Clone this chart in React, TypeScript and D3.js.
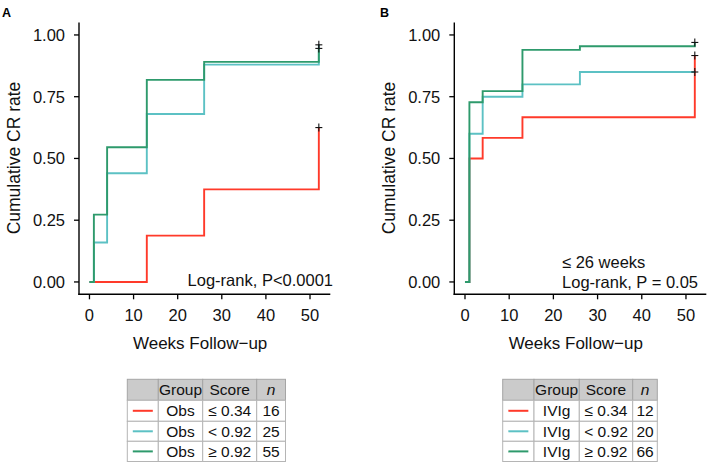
import React from 'react';
import * as d3 from 'd3';

const weeks = [0, 1, 4, 13, 26, 52];
const censorWeek = 52;
const xTicks = [0, 10, 20, 30, 40, 50];
const yTicks = [0, 0.25, 0.5, 0.75, 1];
const scoreLabels = ['≤ 0.34', '< 0.92', '≥ 0.92'];
const seriesColors = ['#FF3A2A', '#5CC1C4', '#2E9A6C'];

// Panel A: Obs
const obsLow = [0, 0, 0, 0.1875, 0.375, 0.625];
const obsMid = [0, 0.16, 0.44, 0.68, 0.88, 0.96];
const obsHigh = [0, 0.2727, 0.5455, 0.8182, 0.8909, 0.9455];
const obsN = [16, 25, 55];

// Panel B: IVIg
const ivigLow = [0, 0.5, 0.5833, 0.6667, 0.6667, 0.9167];
const ivigMid = [0, 0.6, 0.75, 0.8, 0.85, 0.85];
const ivigHigh = [0, 0.7273, 0.7727, 0.9394, 0.9545, 0.9697];
const ivigN = [12, 20, 66];

const FONT = "'Liberation Sans', Arial, Helvetica, sans-serif";

type PanelProps = {
  letter: string;
  letterX: number;
  axisX: number;
  xRange: [number, number];
  series: number[][];
  group: string;
  ns: number[];
  tableX: number[];
  annot: React.ReactNode;
};

function Panel({ letter, letterX, axisX, xRange, series, group, ns, tableX, annot }: PanelProps) {
  const x = d3.scaleLinear().domain([-2.6, 54.6]).range(xRange);
  const y = d3.scaleLinear().domain([-0.05, 1.05]).range([294.3, 22.6]);
  const line = d3
    .line<[number, number]>()
    .x((d) => x(d[0]))
    .y((d) => y(d[1]))
    .curve(d3.curveStepAfter);
  const axisY = y(-0.05);
  const xRight = x(54.6);
  const titleCx = (axisX + xRight) / 2 - 4.5;

  const rowY = [379.3, 400.3, 421.3, 441.3, 461.5];
  const headers = ['', 'Group', 'Score', 'n'];

  return (
    <g>
      <text x={letterX} y={17} fontFamily={FONT} fontWeight="bold" fontSize={12.5}>
        {letter}
      </text>
      {/* series */}
      {series.map((vals, i) => (
        <path
          key={i}
          d={line(weeks.map((w, j) => [w, vals[j]] as [number, number])) || ''}
          fill="none"
          stroke={seriesColors[i]}
          strokeWidth={1.9}
        />
      ))}
      {/* censor marks */}
      {series.map((vals, i) => {
        const cx = x(censorWeek);
        const cy = y(vals[vals.length - 1]);
        return (
          <g key={'c' + i} stroke="#111" strokeWidth={1.1}>
            <line x1={cx - 3.5} x2={cx + 3.5} y1={cy} y2={cy} />
            <line x1={cx} x2={cx} y1={cy - 4} y2={cy + 4} />
          </g>
        );
      })}
      {/* axes */}
      <line x1={axisX} x2={axisX} y1={y(1.05)} y2={axisY + 0.7} stroke="#000" strokeWidth={1.4} />
      <line x1={axisX - 0.7} x2={xRight} y1={axisY} y2={axisY} stroke="#000" strokeWidth={1.4} />
      {yTicks.map((t) => (
        <g key={'y' + t}>
          <line x1={axisX - 5} x2={axisX} y1={y(t)} y2={y(t)} stroke="#000" strokeWidth={1.3} />
          <text
            x={axisX - 14}
            y={y(t)}
            textAnchor="end"
            dominantBaseline="central"
            fontFamily={FONT}
            fontSize={16.5}
            fill="#111"
          >
            {d3.format('.2f')(t)}
          </text>
        </g>
      ))}
      {xTicks.map((t) => (
        <g key={'x' + t}>
          <line x1={x(t)} x2={x(t)} y1={axisY} y2={axisY + 5} stroke="#000" strokeWidth={1.3} />
          <text
            x={x(t)}
            y={315}
            textAnchor="middle"
            dominantBaseline="central"
            fontFamily={FONT}
            fontSize={16.5}
            fill="#111"
          >
            {t}
          </text>
        </g>
      ))}
      <text
        x={titleCx}
        y={343}
        textAnchor="middle"
        dominantBaseline="central"
        fontFamily={FONT}
        fontSize={17}
        fill="#111"
      >
        Weeks Follow−up
      </text>
      <text
        transform={`translate(${axisX - 65},158) rotate(-90)`}
        textAnchor="middle"
        dominantBaseline="central"
        fontFamily={FONT}
        fontSize={17.5}
        fill="#111"
      >
        Cumulative CR rate
      </text>
      {annot}
      {/* table */}
      <g fontFamily={FONT} fontSize={15.5} fill="#111">
        {headers.map((h, c) => (
          <g key={'h' + c}>
            <rect
              x={tableX[c]}
              y={rowY[0]}
              width={tableX[c + 1] - tableX[c]}
              height={rowY[1] - rowY[0]}
              fill="#cbcbcb"
              stroke="#a5a5a5"
              strokeWidth={1}
            />
            <text
              x={(tableX[c] + tableX[c + 1]) / 2}
              y={(rowY[0] + rowY[1]) / 2}
              textAnchor="middle"
              dominantBaseline="central"
              fontStyle={h === 'n' ? 'italic' : 'normal'}
            >
              {h}
            </text>
          </g>
        ))}
        {scoreLabels.map((s, r) => {
          const cells = ['', group, s, String(ns[r])];
          const cy = (rowY[r + 1] + rowY[r + 2]) / 2;
          return (
            <g key={'r' + r}>
              {cells.map((cell, c) => (
                <g key={c}>
                  <rect
                    x={tableX[c]}
                    y={rowY[r + 1]}
                    width={tableX[c + 1] - tableX[c]}
                    height={rowY[r + 2] - rowY[r + 1]}
                    fill="#fff"
                    stroke="#b5b5b5"
                    strokeWidth={1}
                  />
                  {c > 0 && (
                    <text
                      x={(tableX[c] + tableX[c + 1]) / 2}
                      y={cy}
                      textAnchor="middle"
                      dominantBaseline="central"
                    >
                      {cell}
                    </text>
                  )}
                </g>
              ))}
              <line
                x1={(tableX[0] + tableX[1]) / 2 - 10}
                x2={(tableX[0] + tableX[1]) / 2 + 10}
                y1={cy}
                y2={cy}
                stroke={seriesColors[r]}
                strokeWidth={2}
              />
            </g>
          );
        })}
      </g>
    </g>
  );
}

export default function App() {
  return (
    <svg
      width={709}
      height={462}
      style={{ position: 'absolute', left: 0, top: 0, background: '#fff' }}
    >
      <rect width={709} height={462} fill="#fff" />
      <Panel
        letter="A"
        letterX={2}
        axisX={79}
        xRange={[78, 330.3]}
        series={[obsLow, obsMid, obsHigh]}
        group="Obs"
        ns={obsN}
        tableX={[127.3, 158.3, 202.7, 256.7, 285.5]}
        annot={
          <text
            x={333}
            y={280}
            textAnchor="end"
            dominantBaseline="central"
            fontFamily={FONT}
            fontSize={16.5}
            fill="#111"
          >
            Log-rank, P&lt;0.0001
          </text>
        }
      />
      <Panel
        letter="B"
        letterX={380}
        axisX={454.3}
        xRange={[453.5, 706.3]}
        series={[ivigLow, ivigMid, ivigHigh]}
        group="IVIg"
        ns={ivigN}
        tableX={[502.7, 534, 579.3, 632.7, 657.3]}
        annot={
          <g fontFamily={FONT} fontSize={16.5} fill="#111">
            <text x={562} y={262} dominantBaseline="central">
              ≤ 26 weeks
            </text>
            <text x={698} y={282} textAnchor="end" dominantBaseline="central">
              Log-rank, P = 0.05
            </text>
          </g>
        }
      />
    </svg>
  );
}
